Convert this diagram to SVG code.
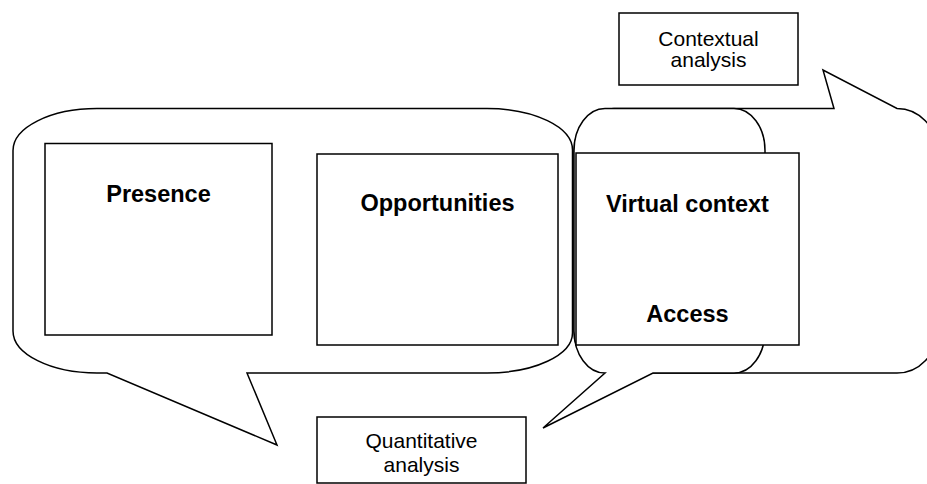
<svg xmlns="http://www.w3.org/2000/svg" width="927" height="484" viewBox="0 0 927 484">
  <style>
    .shape { fill: #ffffff; stroke: #000000; stroke-width: 1.5; stroke-linejoin: miter; }
    .head { font-family: "Liberation Sans", Arial, sans-serif; font-size: 23.5px; font-weight: bold; fill: #000000; text-anchor: middle; }
    .note { font-family: "Liberation Sans", Arial, sans-serif; font-size: 21px; fill: #000000; text-anchor: middle; }
  </style>
  <rect x="0" y="0" width="927" height="484" fill="#ffffff"/>

  <!-- callout bubbles with pointer tails -->
  <g id="connectors">
    <path id="context-callout" class="shape" d="M 614,108.5 H 834 L 823,70 L 897,108.5 A 40 42 0 0 1 937,150.5 V 331 A 40 42 0 0 1 897,373 H 614 A 40 42 0 0 1 574,331 V 150.5 A 40 42 0 0 1 614,108.5 Z"/>
    <path id="access-callout" class="shape" d="M 605,108.5 H 734 A 31 42 0 0 1 765,150.5 V 331 A 31 42 0 0 1 734,373 H 653 L 543,428 L 605,373 A 31 42 0 0 1 574,331 V 150.5 A 31 42 0 0 1 605,108.5 Z"/>
    <path id="presence-callout" class="shape" d="M 97,108.5 H 487 A 85.5 41.5 0 0 1 572.5,150 V 333 A 85.5 40 0 0 1 487,373 H 247 L 277,445 L 107,373 H 97 A 84 42 0 0 1 13,331 V 150.5 A 84 42 0 0 1 97,108.5 Z"/>
  </g>

  <g id="presence">
    <rect class="shape" x="45" y="143.5" width="227" height="191.5"/>
    <text class="head" x="158.5" y="202">Presence</text>
  </g>

  <g id="opportunities">
    <rect class="shape" x="317" y="154" width="241" height="191"/>
    <text class="head" x="437.5" y="211">Opportunities</text>
  </g>

  <g id="virtual-context">
    <rect class="shape" x="576" y="153" width="223" height="192"/>
    <text class="head" x="687.5" y="212">Virtual context</text>
    <text class="head" x="687.5" y="322">Access</text>
  </g>

  <g id="contextual-analysis">
    <rect class="shape" x="619" y="13" width="179" height="72"/>
    <text class="note" x="708.5" y="45.5">Contextual</text>
    <text class="note" x="708.5" y="67">analysis</text>
  </g>

  <g id="quantitative-analysis">
    <rect class="shape" x="317" y="417" width="209" height="66"/>
    <text class="note" x="421.5" y="447.5">Quantitative</text>
    <text class="note" x="421.5" y="471.5">analysis</text>
  </g>
</svg>
